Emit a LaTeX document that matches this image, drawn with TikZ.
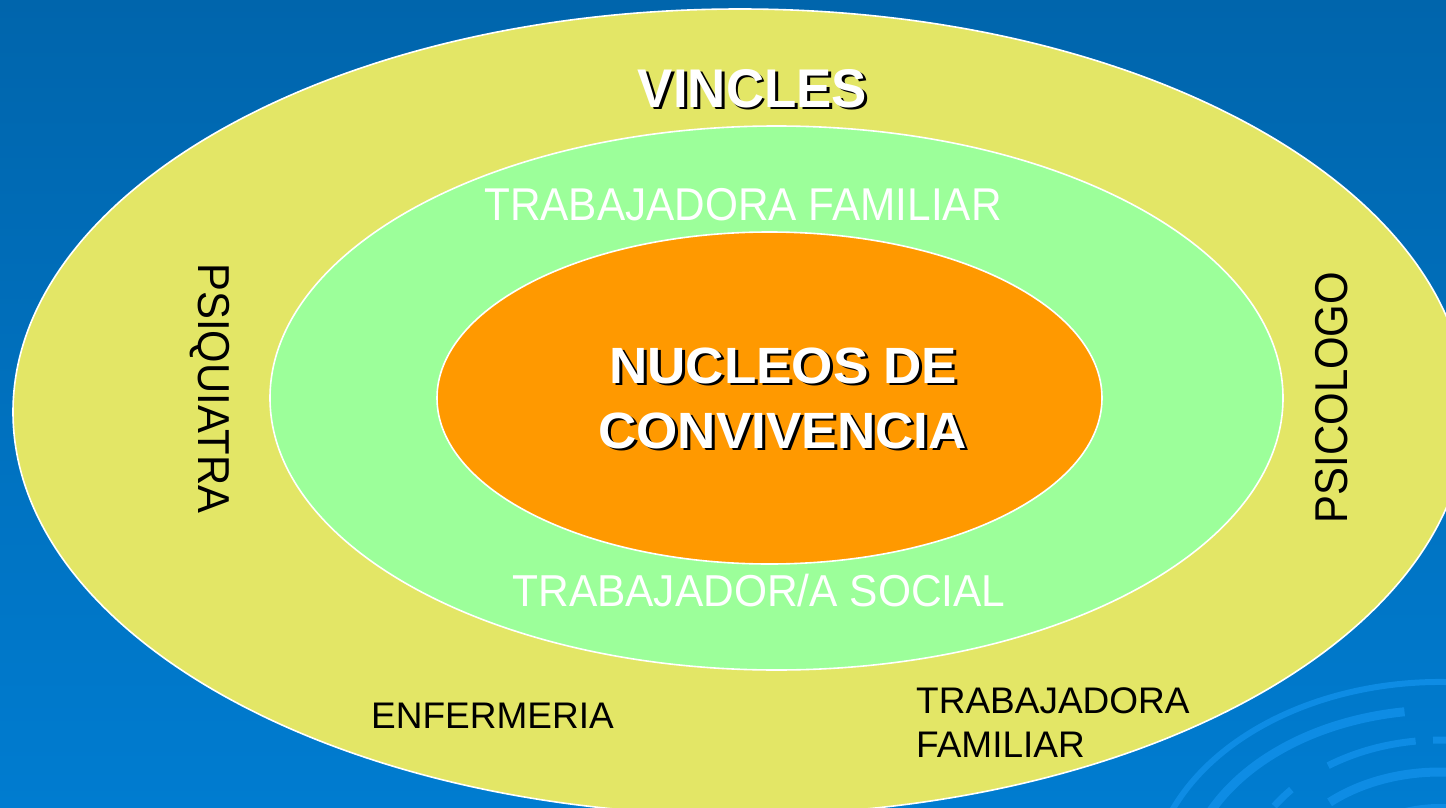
\documentclass[tikz,border=0pt]{standalone}
\usepackage{fontspec}
\setmainfont{Liberation Sans}
\usepackage{graphicx}
\definecolor{bgtop}{RGB}{0,101,172}
\definecolor{bgbot}{RGB}{0,124,208}
\definecolor{swirl}{RGB}{14,140,228}
\definecolor{ringY}{RGB}{227,230,102}
\definecolor{ringG}{RGB}{156,255,154}
\definecolor{ringO}{RGB}{255,153,0}
\newcommand\myfs[1]{\fontsize{#1}{#1}\selectfont}
% white text with a black drop shadow, in one box
\newcommand\shadowed[1]{\makebox[0pt][l]{\hspace{3pt}\raisebox{-2.5pt}{\color{black}#1}}#1}
\begin{document}
\begin{tikzpicture}[x=1pt,y=-1pt,
  ring/.style={draw=white, line width=1.6pt},
  swirlarc/.style={draw=swirl, line width=#1},
  swirlarc/.default=8pt,
  lbl/.style={inner sep=0pt, anchor=base},
]
\useasboundingbox (0,0) rectangle (1446,808);
\begin{scope}
\clip (0,0) rectangle (1446,808);
% background
\shade[top color=bgtop, bottom color=bgbot] (0,0) rectangle (1446,808);
% decorative swirl rings
\draw[swirlarc=6pt] (1440,890) ++(200:290 and 208) arc[start angle=200, end angle=285, x radius=290, y radius=208];
\draw[swirlarc=9pt] (1440,890) ++(195:255 and 180) arc[start angle=195, end angle=262, x radius=255, y radius=180];
\draw[swirlarc=7pt] (1440,890) ++(214:200 and 150) arc[start angle=214, end angle=222, x radius=200, y radius=150];
\draw[swirlarc=7pt] (1440,890) ++(236:200 and 150) arc[start angle=236, end angle=263, x radius=200, y radius=150];
\draw[swirlarc=7pt] (1440,890) ++(268:200 and 150) arc[start angle=268, end angle=290, x radius=200, y radius=150];
\draw[swirlarc=9pt] (1440,890) ++(200:165 and 118) arc[start angle=200, end angle=214, x radius=165, y radius=118];
\draw[swirlarc=9pt] (1440,890) ++(228:165 and 118) arc[start angle=228, end angle=290, x radius=165, y radius=118];
\draw[swirlarc=12pt] (1440,890) ++(205:110 and 80) arc[start angle=205, end angle=290, x radius=110, y radius=80];
% rings
\filldraw[fill=ringY, ring] (740,412) ellipse[x radius=727, y radius=403];
\filldraw[fill=ringG, ring] (776.5,398) ellipse[x radius=506.5, y radius=272];
\filldraw[fill=ringO, ring] (769.5,398) ellipse[x radius=332.5, y radius=166];
\end{scope}

% outer ring title
\node[lbl, text=white] (vincles) at (752.5,107) {\myfs{54.5}\scalebox{0.97}[1]{\bfseries\shadowed{VINCLES}}};

% core
\node[lbl, text=white] (nuc1) at (783,383) {\myfs{51}\scalebox{1.04}[1]{\bfseries\shadowed{NUCLEOS DE}}};
\node[lbl, text=white] (nuc2) at (782.5,448) {\myfs{51}\scalebox{1.04}[1]{\bfseries\shadowed{CONVIVENCIA}}};

% middle ring
\node[lbl, text=white] (tfam) at (743,220) {\myfs{46}\scalebox{0.92}[1]{TRABAJADORA FAMILIAR}};
\node[lbl, text=white] (tsoc) at (759,606.5) {\myfs{44.7}\scalebox{0.95}[1]{TRABAJADOR/A SOCIAL}};

% outer ring labels
\node[lbl, rotate=-90] (psiq) at (198,388.5) {\myfs{44.7}\scalebox{0.935}[1]{PSIQUIATRA}};
\node[lbl, rotate=90] (psic) at (1347,397.5) {\myfs{46}\scalebox{0.91}[1]{PSICOLOGO}};
\node[lbl] (enf) at (492.5,728) {\myfs{37}ENFERMERIA};
\node[lbl, anchor=base west] (tfam2a) at (916,713) {\myfs{37}TRABAJADORA};
\node[lbl, anchor=base west] (tfam2b) at (916,757) {\myfs{37}FAMILIAR};
\end{tikzpicture}
\end{document}
